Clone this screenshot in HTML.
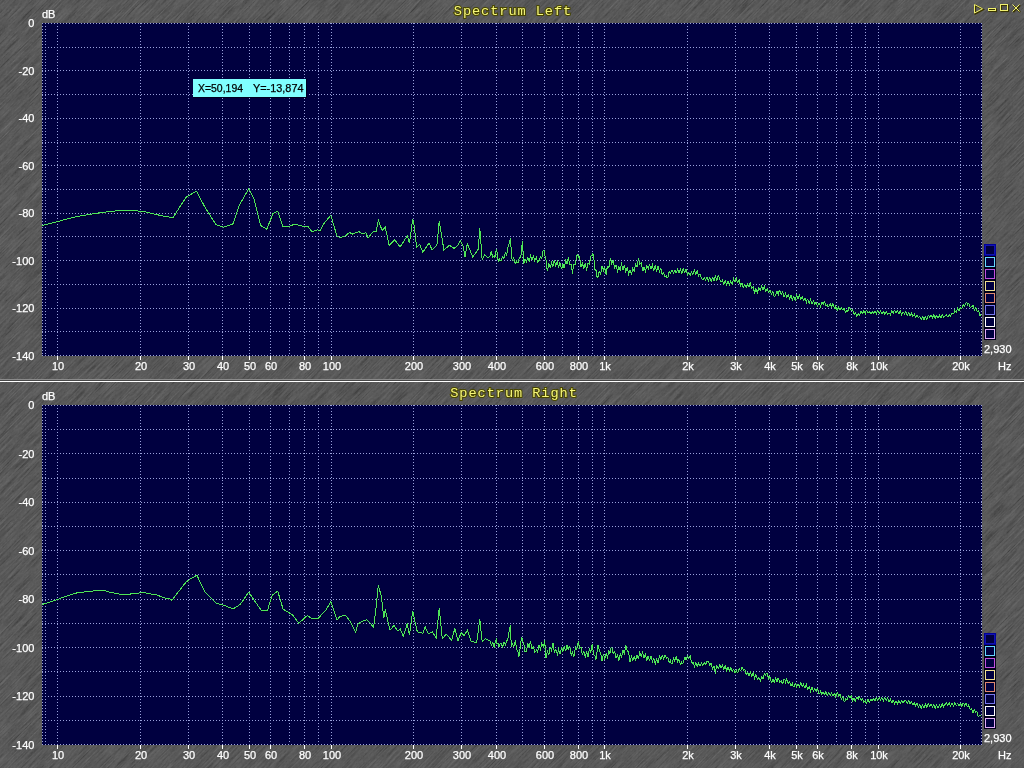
<!DOCTYPE html>
<html><head><meta charset="utf-8"><style>
html,body{margin:0;padding:0;width:1024px;height:768px;overflow:hidden;}
body{background-color:#575757;}
svg{position:absolute;left:0;top:0;will-change:transform;}
.lb{font-family:"Liberation Sans",sans-serif;font-size:11px;fill:#fff;stroke:#fff;stroke-width:0.25px;}
.tt{font-family:"Liberation Mono",monospace;font-weight:normal;font-size:13.6px;letter-spacing:0.95px;fill:#f6f67a;stroke:#484600;stroke-width:2px;paint-order:stroke;}
</style></head><body>
<svg width="1024" height="768" viewBox="0 0 1024 768">
<defs><filter id="n" color-interpolation-filters="sRGB" x="0" y="0" width="1" height="1" filterUnits="objectBoundingBox">
<feTurbulence type="fractalNoise" baseFrequency="0.8 0.035" numOctaves="4" seed="7" result="a"/>
<feTurbulence type="fractalNoise" baseFrequency="1.3 0.5" numOctaves="1" seed="3" result="b"/>
<feComposite in="a" in2="b" operator="arithmetic" k1="0" k2="0.7" k3="0.3" k4="0"/>
<feComponentTransfer><feFuncR type="gamma" amplitude="1" exponent="0.5" offset="0"/></feComponentTransfer>
<feColorMatrix type="matrix" values="0.4 0 0 0 0.066  0.4 0 0 0 0.066  0.4 0 0 0 0.066  0 0 0 0 1"/>
</filter></defs>
<g transform="rotate(45 512 384)"><rect x="-400" y="-400" width="1824" height="1568" filter="url(#n)"/></g>
<g shape-rendering="crispEdges">
<rect x="0" y="379" width="1024" height="1" fill="#8a8a8a"/>
<rect x="0" y="380" width="1024" height="1" fill="#484848"/>
<rect x="0" y="381" width="1024" height="1" fill="#ffffff"/>
<rect x="42" y="23" width="940" height="333" fill="#000040"/>
<line x1="42" y1="23.5" x2="982" y2="23.5" stroke="#9aa2dc" stroke-dasharray="1 2"/>
<line x1="42" y1="47.5" x2="982" y2="47.5" stroke="#9aa2dc" stroke-dasharray="1 2"/>
<line x1="42" y1="70.5" x2="982" y2="70.5" stroke="#9aa2dc" stroke-dasharray="1 2"/>
<line x1="42" y1="94.5" x2="982" y2="94.5" stroke="#9aa2dc" stroke-dasharray="1 2"/>
<line x1="42" y1="118.5" x2="982" y2="118.5" stroke="#9aa2dc" stroke-dasharray="1 2"/>
<line x1="42" y1="142.5" x2="982" y2="142.5" stroke="#9aa2dc" stroke-dasharray="1 2"/>
<line x1="42" y1="165.5" x2="982" y2="165.5" stroke="#9aa2dc" stroke-dasharray="1 2"/>
<line x1="42" y1="189.5" x2="982" y2="189.5" stroke="#9aa2dc" stroke-dasharray="1 2"/>
<line x1="42" y1="213.5" x2="982" y2="213.5" stroke="#9aa2dc" stroke-dasharray="1 2"/>
<line x1="42" y1="236.5" x2="982" y2="236.5" stroke="#9aa2dc" stroke-dasharray="1 2"/>
<line x1="42" y1="260.5" x2="982" y2="260.5" stroke="#9aa2dc" stroke-dasharray="1 2"/>
<line x1="42" y1="284.5" x2="982" y2="284.5" stroke="#9aa2dc" stroke-dasharray="1 2"/>
<line x1="42" y1="308.5" x2="982" y2="308.5" stroke="#9aa2dc" stroke-dasharray="1 2"/>
<line x1="42" y1="331.5" x2="982" y2="331.5" stroke="#9aa2dc" stroke-dasharray="1 2"/>
<line x1="42" y1="355.5" x2="982" y2="355.5" stroke="#9aa2dc" stroke-dasharray="1 2"/>
<line x1="42.5" y1="23" x2="42.5" y2="355" stroke="#9aa2dc" stroke-dasharray="1 2"/>
<line x1="981.5" y1="23" x2="981.5" y2="355" stroke="#9aa2dc" stroke-dasharray="1 2"/>
<line x1="45.5" y1="23" x2="45.5" y2="355" stroke="#9aa2dc" stroke-dasharray="1 2"/>
<line x1="57.5" y1="23" x2="57.5" y2="355" stroke="#9aa2dc" stroke-dasharray="1 2"/>
<line x1="140.5" y1="23" x2="140.5" y2="355" stroke="#9aa2dc" stroke-dasharray="1 2"/>
<line x1="188.5" y1="23" x2="188.5" y2="355" stroke="#9aa2dc" stroke-dasharray="1 2"/>
<line x1="222.5" y1="23" x2="222.5" y2="355" stroke="#9aa2dc" stroke-dasharray="1 2"/>
<line x1="249.5" y1="23" x2="249.5" y2="355" stroke="#9aa2dc" stroke-dasharray="1 2"/>
<line x1="270.5" y1="23" x2="270.5" y2="355" stroke="#9aa2dc" stroke-dasharray="1 2"/>
<line x1="289.5" y1="23" x2="289.5" y2="355" stroke="#9aa2dc" stroke-dasharray="1 2"/>
<line x1="304.5" y1="23" x2="304.5" y2="355" stroke="#9aa2dc" stroke-dasharray="1 2"/>
<line x1="318.5" y1="23" x2="318.5" y2="355" stroke="#9aa2dc" stroke-dasharray="1 2"/>
<line x1="331.5" y1="23" x2="331.5" y2="355" stroke="#9aa2dc" stroke-dasharray="1 2"/>
<line x1="413.5" y1="23" x2="413.5" y2="355" stroke="#9aa2dc" stroke-dasharray="1 2"/>
<line x1="461.5" y1="23" x2="461.5" y2="355" stroke="#9aa2dc" stroke-dasharray="1 2"/>
<line x1="496.5" y1="23" x2="496.5" y2="355" stroke="#9aa2dc" stroke-dasharray="1 2"/>
<line x1="522.5" y1="23" x2="522.5" y2="355" stroke="#9aa2dc" stroke-dasharray="1 2"/>
<line x1="544.5" y1="23" x2="544.5" y2="355" stroke="#9aa2dc" stroke-dasharray="1 2"/>
<line x1="562.5" y1="23" x2="562.5" y2="355" stroke="#9aa2dc" stroke-dasharray="1 2"/>
<line x1="578.5" y1="23" x2="578.5" y2="355" stroke="#9aa2dc" stroke-dasharray="1 2"/>
<line x1="592.5" y1="23" x2="592.5" y2="355" stroke="#9aa2dc" stroke-dasharray="1 2"/>
<line x1="604.5" y1="23" x2="604.5" y2="355" stroke="#9aa2dc" stroke-dasharray="1 2"/>
<line x1="687.5" y1="23" x2="687.5" y2="355" stroke="#9aa2dc" stroke-dasharray="1 2"/>
<line x1="735.5" y1="23" x2="735.5" y2="355" stroke="#9aa2dc" stroke-dasharray="1 2"/>
<line x1="769.5" y1="23" x2="769.5" y2="355" stroke="#9aa2dc" stroke-dasharray="1 2"/>
<line x1="796.5" y1="23" x2="796.5" y2="355" stroke="#9aa2dc" stroke-dasharray="1 2"/>
<line x1="817.5" y1="23" x2="817.5" y2="355" stroke="#9aa2dc" stroke-dasharray="1 2"/>
<line x1="836.5" y1="23" x2="836.5" y2="355" stroke="#9aa2dc" stroke-dasharray="1 2"/>
<line x1="851.5" y1="23" x2="851.5" y2="355" stroke="#9aa2dc" stroke-dasharray="1 2"/>
<line x1="865.5" y1="23" x2="865.5" y2="355" stroke="#9aa2dc" stroke-dasharray="1 2"/>
<line x1="878.5" y1="23" x2="878.5" y2="355" stroke="#9aa2dc" stroke-dasharray="1 2"/>
<line x1="960.5" y1="23" x2="960.5" y2="355" stroke="#9aa2dc" stroke-dasharray="1 2"/>
<rect x="57" y="356" width="1" height="4" fill="#fff"/>
<rect x="140" y="356" width="1" height="4" fill="#fff"/>
<rect x="188" y="356" width="1" height="4" fill="#fff"/>
<rect x="222" y="356" width="1" height="4" fill="#fff"/>
<rect x="249" y="356" width="1" height="4" fill="#fff"/>
<rect x="270" y="356" width="1" height="4" fill="#fff"/>
<rect x="304" y="356" width="1" height="4" fill="#fff"/>
<rect x="331" y="356" width="1" height="4" fill="#fff"/>
<rect x="413" y="356" width="1" height="4" fill="#fff"/>
<rect x="461" y="356" width="1" height="4" fill="#fff"/>
<rect x="496" y="356" width="1" height="4" fill="#fff"/>
<rect x="544" y="356" width="1" height="4" fill="#fff"/>
<rect x="578" y="356" width="1" height="4" fill="#fff"/>
<rect x="604" y="356" width="1" height="4" fill="#fff"/>
<rect x="687" y="356" width="1" height="4" fill="#fff"/>
<rect x="735" y="356" width="1" height="4" fill="#fff"/>
<rect x="769" y="356" width="1" height="4" fill="#fff"/>
<rect x="796" y="356" width="1" height="4" fill="#fff"/>
<rect x="817" y="356" width="1" height="4" fill="#fff"/>
<rect x="851" y="356" width="1" height="4" fill="#fff"/>
<rect x="878" y="356" width="1" height="4" fill="#fff"/>
<rect x="960" y="356" width="1" height="4" fill="#fff"/>
<rect x="984" y="244" width="12" height="96" fill="#000018"/>
<rect x="984" y="244" width="12" height="12" fill="#00009c"/>
<rect x="985.5" y="245.5" width="9" height="9" fill="#000040" stroke="#1414b0" stroke-width="1"/>
<rect x="985.5" y="257.5" width="9" height="9" fill="#000040" stroke="#66d8ff" stroke-width="1"/>
<rect x="985.5" y="269.5" width="9" height="9" fill="#000040" stroke="#c050e0" stroke-width="1"/>
<rect x="985.5" y="281.5" width="9" height="9" fill="#000040" stroke="#f0e090" stroke-width="1"/>
<rect x="985.5" y="293.5" width="9" height="9" fill="#000040" stroke="#e08870" stroke-width="1"/>
<rect x="985.5" y="305.5" width="9" height="9" fill="#000040" stroke="#7878f0" stroke-width="1"/>
<rect x="985.5" y="317.5" width="9" height="9" fill="#000040" stroke="#ffffff" stroke-width="1"/>
<rect x="985.5" y="329.5" width="9" height="9" fill="#000040" stroke="#e0a8f8" stroke-width="1"/>
<rect x="42" y="405" width="940" height="340" fill="#000040"/>
<line x1="42" y1="405.5" x2="982" y2="405.5" stroke="#9aa2dc" stroke-dasharray="1 2"/>
<line x1="42" y1="429.5" x2="982" y2="429.5" stroke="#9aa2dc" stroke-dasharray="1 2"/>
<line x1="42" y1="453.5" x2="982" y2="453.5" stroke="#9aa2dc" stroke-dasharray="1 2"/>
<line x1="42" y1="478.5" x2="982" y2="478.5" stroke="#9aa2dc" stroke-dasharray="1 2"/>
<line x1="42" y1="502.5" x2="982" y2="502.5" stroke="#9aa2dc" stroke-dasharray="1 2"/>
<line x1="42" y1="526.5" x2="982" y2="526.5" stroke="#9aa2dc" stroke-dasharray="1 2"/>
<line x1="42" y1="550.5" x2="982" y2="550.5" stroke="#9aa2dc" stroke-dasharray="1 2"/>
<line x1="42" y1="574.5" x2="982" y2="574.5" stroke="#9aa2dc" stroke-dasharray="1 2"/>
<line x1="42" y1="599.5" x2="982" y2="599.5" stroke="#9aa2dc" stroke-dasharray="1 2"/>
<line x1="42" y1="623.5" x2="982" y2="623.5" stroke="#9aa2dc" stroke-dasharray="1 2"/>
<line x1="42" y1="647.5" x2="982" y2="647.5" stroke="#9aa2dc" stroke-dasharray="1 2"/>
<line x1="42" y1="671.5" x2="982" y2="671.5" stroke="#9aa2dc" stroke-dasharray="1 2"/>
<line x1="42" y1="696.5" x2="982" y2="696.5" stroke="#9aa2dc" stroke-dasharray="1 2"/>
<line x1="42" y1="720.5" x2="982" y2="720.5" stroke="#9aa2dc" stroke-dasharray="1 2"/>
<line x1="42" y1="744.5" x2="982" y2="744.5" stroke="#9aa2dc" stroke-dasharray="1 2"/>
<line x1="42.5" y1="405" x2="42.5" y2="744" stroke="#9aa2dc" stroke-dasharray="1 2"/>
<line x1="981.5" y1="405" x2="981.5" y2="744" stroke="#9aa2dc" stroke-dasharray="1 2"/>
<line x1="45.5" y1="405" x2="45.5" y2="744" stroke="#9aa2dc" stroke-dasharray="1 2"/>
<line x1="57.5" y1="405" x2="57.5" y2="744" stroke="#9aa2dc" stroke-dasharray="1 2"/>
<line x1="140.5" y1="405" x2="140.5" y2="744" stroke="#9aa2dc" stroke-dasharray="1 2"/>
<line x1="188.5" y1="405" x2="188.5" y2="744" stroke="#9aa2dc" stroke-dasharray="1 2"/>
<line x1="222.5" y1="405" x2="222.5" y2="744" stroke="#9aa2dc" stroke-dasharray="1 2"/>
<line x1="249.5" y1="405" x2="249.5" y2="744" stroke="#9aa2dc" stroke-dasharray="1 2"/>
<line x1="270.5" y1="405" x2="270.5" y2="744" stroke="#9aa2dc" stroke-dasharray="1 2"/>
<line x1="289.5" y1="405" x2="289.5" y2="744" stroke="#9aa2dc" stroke-dasharray="1 2"/>
<line x1="304.5" y1="405" x2="304.5" y2="744" stroke="#9aa2dc" stroke-dasharray="1 2"/>
<line x1="318.5" y1="405" x2="318.5" y2="744" stroke="#9aa2dc" stroke-dasharray="1 2"/>
<line x1="331.5" y1="405" x2="331.5" y2="744" stroke="#9aa2dc" stroke-dasharray="1 2"/>
<line x1="413.5" y1="405" x2="413.5" y2="744" stroke="#9aa2dc" stroke-dasharray="1 2"/>
<line x1="461.5" y1="405" x2="461.5" y2="744" stroke="#9aa2dc" stroke-dasharray="1 2"/>
<line x1="496.5" y1="405" x2="496.5" y2="744" stroke="#9aa2dc" stroke-dasharray="1 2"/>
<line x1="522.5" y1="405" x2="522.5" y2="744" stroke="#9aa2dc" stroke-dasharray="1 2"/>
<line x1="544.5" y1="405" x2="544.5" y2="744" stroke="#9aa2dc" stroke-dasharray="1 2"/>
<line x1="562.5" y1="405" x2="562.5" y2="744" stroke="#9aa2dc" stroke-dasharray="1 2"/>
<line x1="578.5" y1="405" x2="578.5" y2="744" stroke="#9aa2dc" stroke-dasharray="1 2"/>
<line x1="592.5" y1="405" x2="592.5" y2="744" stroke="#9aa2dc" stroke-dasharray="1 2"/>
<line x1="604.5" y1="405" x2="604.5" y2="744" stroke="#9aa2dc" stroke-dasharray="1 2"/>
<line x1="687.5" y1="405" x2="687.5" y2="744" stroke="#9aa2dc" stroke-dasharray="1 2"/>
<line x1="735.5" y1="405" x2="735.5" y2="744" stroke="#9aa2dc" stroke-dasharray="1 2"/>
<line x1="769.5" y1="405" x2="769.5" y2="744" stroke="#9aa2dc" stroke-dasharray="1 2"/>
<line x1="796.5" y1="405" x2="796.5" y2="744" stroke="#9aa2dc" stroke-dasharray="1 2"/>
<line x1="817.5" y1="405" x2="817.5" y2="744" stroke="#9aa2dc" stroke-dasharray="1 2"/>
<line x1="836.5" y1="405" x2="836.5" y2="744" stroke="#9aa2dc" stroke-dasharray="1 2"/>
<line x1="851.5" y1="405" x2="851.5" y2="744" stroke="#9aa2dc" stroke-dasharray="1 2"/>
<line x1="865.5" y1="405" x2="865.5" y2="744" stroke="#9aa2dc" stroke-dasharray="1 2"/>
<line x1="878.5" y1="405" x2="878.5" y2="744" stroke="#9aa2dc" stroke-dasharray="1 2"/>
<line x1="960.5" y1="405" x2="960.5" y2="744" stroke="#9aa2dc" stroke-dasharray="1 2"/>
<rect x="57" y="745" width="1" height="4" fill="#fff"/>
<rect x="140" y="745" width="1" height="4" fill="#fff"/>
<rect x="188" y="745" width="1" height="4" fill="#fff"/>
<rect x="222" y="745" width="1" height="4" fill="#fff"/>
<rect x="249" y="745" width="1" height="4" fill="#fff"/>
<rect x="270" y="745" width="1" height="4" fill="#fff"/>
<rect x="304" y="745" width="1" height="4" fill="#fff"/>
<rect x="331" y="745" width="1" height="4" fill="#fff"/>
<rect x="413" y="745" width="1" height="4" fill="#fff"/>
<rect x="461" y="745" width="1" height="4" fill="#fff"/>
<rect x="496" y="745" width="1" height="4" fill="#fff"/>
<rect x="544" y="745" width="1" height="4" fill="#fff"/>
<rect x="578" y="745" width="1" height="4" fill="#fff"/>
<rect x="604" y="745" width="1" height="4" fill="#fff"/>
<rect x="687" y="745" width="1" height="4" fill="#fff"/>
<rect x="735" y="745" width="1" height="4" fill="#fff"/>
<rect x="769" y="745" width="1" height="4" fill="#fff"/>
<rect x="796" y="745" width="1" height="4" fill="#fff"/>
<rect x="817" y="745" width="1" height="4" fill="#fff"/>
<rect x="851" y="745" width="1" height="4" fill="#fff"/>
<rect x="878" y="745" width="1" height="4" fill="#fff"/>
<rect x="960" y="745" width="1" height="4" fill="#fff"/>
<rect x="984" y="633" width="12" height="96" fill="#000018"/>
<rect x="984" y="633" width="12" height="12" fill="#00009c"/>
<rect x="985.5" y="634.5" width="9" height="9" fill="#000040" stroke="#1414b0" stroke-width="1"/>
<rect x="985.5" y="646.5" width="9" height="9" fill="#000040" stroke="#66d8ff" stroke-width="1"/>
<rect x="985.5" y="658.5" width="9" height="9" fill="#000040" stroke="#c050e0" stroke-width="1"/>
<rect x="985.5" y="670.5" width="9" height="9" fill="#000040" stroke="#f0e090" stroke-width="1"/>
<rect x="985.5" y="682.5" width="9" height="9" fill="#000040" stroke="#e08870" stroke-width="1"/>
<rect x="985.5" y="694.5" width="9" height="9" fill="#000040" stroke="#7878f0" stroke-width="1"/>
<rect x="985.5" y="706.5" width="9" height="9" fill="#000040" stroke="#ffffff" stroke-width="1"/>
<rect x="985.5" y="718.5" width="9" height="9" fill="#000040" stroke="#e0a8f8" stroke-width="1"/>
<rect x="193" y="79" width="113" height="18" fill="#80ffff"/>
<rect x="193" y="97" width="114" height="1" fill="#000020"/>
<rect x="306" y="79" width="1" height="19" fill="#000020"/>
</g>
<path d="M42.0,225.5 L46.0,224.5 L50.0,223.5 L54.0,222.5 L57.6,221.5 L61.7,220.5 L65.0,219.5 L69.0,218.5 L73.0,217.5 L77.5,216.5 L83.0,215.5 L89.0,214.5 L96.0,213.5 L100.0,212.7 L104.0,212.5 L108.0,211.5 L113.0,211.2 L119.0,210.5 L133.0,210.5 L138.0,211.0 L144.0,211.5 L148.0,212.5 L152.0,213.5 L156.0,214.5 L161.0,215.5 L165.0,216.5 L173.0,217.5 L180.0,206.6 L186.2,197.2 L189.4,195.3 L196.4,191.2 L205.0,207.3 L215.9,224.5 L223.8,227.2 L233.1,223.8 L239.4,205.0 L248.8,188.6 L254.2,199.5 L260.5,225.3 L266.7,229.2 L273.0,213.6 L277.7,211.2 L283.1,226.9 L289.4,226.1 L294.0,224.5 L300.3,225.3 L305.0,226.9 L308.1,226.6 L312.0,231.6 L317.5,229.7 L319.8,230.8 L323.8,223.8 L330.8,215.2 L337.0,236.2 L340.0,237.5 L345.5,235.9 L349.4,232.5 L352.5,234.0 L358.8,231.6 L361.9,233.6 L365.8,232.8 L368.1,237.8 L373.6,231.2 L376.0,232.0 L378.3,220.3 L382.2,230.5 L385.3,227.3 L389.2,245.3 L394.7,239.8 L400.2,246.9 L407.2,235.9 L409.5,243.0 L412.7,218.8 L414.2,225.8 L416.6,246.9 L419.7,244.5 L422.8,252.3 L429.0,243.0 L432.2,250.0 L436.9,245.3 L439.2,221.1 L443.9,250.0 L449.4,245.3 L454.0,248.4 L457.2,246.1 L460.3,240.6 L463.4,246.9 L465.0,257.0 L467.3,243.8 L472.8,257.0 L478.3,249.2 L479.8,228.1 L482.2,260.2 L484.5,254.7 L487.7,257.8 L490.0,256.3 L491.4,251.1 L491.6,253.1 L492.8,257.1 L494.2,255.6 L494.7,257.8 L495.6,254.6 L496.2,249.2 L497.0,252.0 L497.8,258.6 L498.4,261.2 L499.8,258.2 L500.0,260.6 L501.2,260.5 L502.6,256.5 L504.0,258.4 L505.4,252.9 L506.8,255.2 L507.0,252.8 L508.2,246.3 L509.6,242.8 L510.2,238.4 L511.0,246.9 L511.7,258.3 L512.4,260.3 L513.8,257.7 L515.2,263.7 L516.6,261.3 L517.2,263.0 L518.0,262.7 L519.4,257.2 L520.3,257.5 L520.8,257.6 L522.2,243.1 L522.7,242.2 L523.4,262.2 L523.6,264.0 L525.0,258.9 L526.4,262.0 L527.8,257.6 L529.2,261.1 L530.6,255.4 L531.2,257.5 L532.0,259.8 L533.4,256.4 L534.8,260.9 L536.2,257.1 L537.6,262.1 L539.0,260.6 L540.4,256.5 L541.8,258.6 L543.2,250.3 L544.5,250.5 L544.6,254.0 L546.0,259.8 L546.9,268.4 L547.4,271.4 L548.8,263.8 L550.2,267.5 L551.6,262.5 L553.0,266.4 L554.4,259.6 L554.7,262.2 L555.8,266.1 L557.2,261.4 L558.6,267.6 L560.0,262.6 L561.4,268.3 L562.5,266.9 L562.8,263.9 L564.2,268.1 L565.6,260.3 L567.0,264.3 L568.4,257.6 L568.8,259.8 L569.8,264.3 L571.2,264.6 L572.6,273.5 L572.7,270.8 L574.0,264.5 L575.4,264.3 L576.8,255.6 L578.0,254.4 L578.2,257.9 L579.6,257.0 L581.0,266.7 L581.2,265.3 L582.4,263.2 L583.8,268.4 L585.2,263.3 L586.6,269.2 L587.5,266.9 L588.0,263.2 L589.4,264.0 L590.8,256.0 L592.2,255.3 L592.5,252.8 L593.6,255.8 L595.0,269.5 L596.4,270.9 L596.9,276.2 L597.8,277.4 L599.2,271.4 L600.6,274.0 L602.0,266.3 L603.0,268.4 L603.4,271.8 L604.8,267.6 L606.2,274.7 L606.2,271.6 L607.6,266.3 L609.0,267.3 L610.4,258.0 L611.0,259.8 L611.8,263.7 L613.2,261.0 L614.6,267.8 L616.0,265.5 L617.2,270.0 L617.4,273.1 L618.8,266.9 L620.2,270.0 L621.6,262.5 L621.9,265.3 L623.0,269.5 L624.4,264.7 L625.8,271.9 L627.2,267.7 L628.6,274.0 L630.0,270.4 L631.2,273.9 L631.4,275.3 L632.8,268.1 L634.2,271.4 L635.6,264.5 L637.0,266.5 L638.4,259.2 L639.0,260.6 L639.8,264.4 L641.2,262.8 L642.6,270.3 L643.8,270.0 L644.0,267.1 L645.4,271.6 L646.8,265.6 L648.2,268.6 L648.4,266.9 L649.6,265.2 L651.0,269.4 L652.4,265.2 L653.8,271.3 L655.2,265.5 L656.6,271.9 L658.0,266.2 L659.4,271.6 L660.0,269.7 L660.8,268.2 L662.2,274.3 L663.6,272.4 L665.0,276.5 L666.4,275.6 L667.0,277.5 L667.8,277.9 L669.2,270.9 L669.4,272.0 L670.6,273.2 L672.0,269.7 L673.4,273.3 L674.8,270.2 L676.2,272.8 L677.6,269.3 L679.0,272.5 L680.4,269.4 L681.8,273.1 L683.2,268.9 L684.6,272.2 L685.8,270.5 L686.0,269.2 L687.3,274.4 L687.4,275.6 L688.8,272.3 L690.2,275.5 L691.6,271.9 L693.0,274.4 L694.4,270.3 L695.8,274.3 L697.2,270.6 L697.5,272.0 L698.6,275.8 L700.0,273.7 L701.4,278.3 L702.8,279.7 L704.2,277.5 L705.6,280.3 L707.0,276.9 L708.4,280.7 L709.8,277.4 L711.2,281.9 L711.6,279.8 L712.6,277.6 L714.0,280.6 L715.4,276.1 L716.8,280.6 L718.2,275.9 L719.4,277.5 L719.6,279.6 L721.0,282.2 L722.4,280.4 L723.8,284.5 L725.2,281.0 L726.6,284.9 L728.0,281.5 L728.8,283.8 L729.4,284.7 L730.8,281.1 L732.2,284.6 L733.6,278.9 L735.0,282.2 L736.4,277.5 L736.6,279.8 L737.8,282.6 L739.2,279.9 L740.6,286.1 L742.0,283.5 L742.8,286.1 L743.4,287.5 L744.8,284.5 L746.2,287.8 L747.6,283.9 L749.0,287.2 L750.4,282.0 L750.6,284.5 L751.8,288.3 L753.2,287.0 L754.6,293.0 L755.3,291.6 L756.0,288.6 L757.4,292.6 L758.8,287.8 L760.2,290.6 L761.6,286.4 L762.3,287.7 L763.0,289.5 L764.4,286.7 L765.8,291.4 L767.2,288.9 L768.6,292.5 L769.4,291.6 L770.0,289.9 L771.4,294.5 L772.8,291.9 L774.2,296.3 L775.6,295.5 L777.0,291.4 L778.4,294.5 L778.8,291.6 L779.8,290.9 L781.2,294.3 L782.6,291.9 L784.0,296.8 L785.0,294.7 L785.4,292.6 L786.8,297.3 L788.2,294.8 L789.6,299.1 L791.0,295.3 L792.4,300.9 L792.8,298.6 L793.8,296.6 L795.2,300.2 L796.6,295.2 L797.5,297.0 L798.0,299.0 L799.4,295.1 L800.8,299.6 L802.2,296.4 L803.6,300.4 L805.0,298.1 L806.4,302.5 L806.9,300.2 L807.8,299.0 L809.2,303.2 L810.6,299.4 L812.0,304.3 L813.4,300.7 L814.8,304.5 L816.2,301.7 L816.2,303.3 L817.6,306.4 L819.0,302.7 L820.0,305.2 L820.4,306.8 L821.8,302.3 L823.2,304.2 L823.9,302.8 L824.6,302.0 L826.0,305.6 L827.4,305.0 L827.8,306.2 L828.8,306.9 L830.2,303.7 L831.6,306.7 L832.5,304.7 L833.0,303.6 L834.4,308.1 L835.6,308.3 L835.8,306.8 L837.2,310.1 L838.6,307.3 L840.0,310.1 L841.4,307.7 L842.8,309.9 L843.4,309.0 L844.2,308.5 L845.6,312.4 L847.0,310.2 L847.3,311.9 L848.4,310.7 L848.9,307.5 L849.8,307.1 L851.2,310.9 L852.6,309.5 L854.0,314.3 L855.4,313.1 L856.7,315.3 L856.8,316.8 L858.2,313.7 L859.6,315.0 L861.0,311.6 L862.4,313.6 L863.8,311.0 L865.2,313.3 L865.3,311.4 L866.6,310.4 L868.0,313.1 L869.4,311.4 L870.8,313.9 L871.6,313.0 L872.2,311.3 L873.6,313.6 L875.0,310.7 L876.4,313.5 L877.8,310.2 L878.6,311.9 L879.2,313.8 L880.6,311.1 L882.0,313.6 L883.4,311.4 L884.8,314.0 L886.2,311.7 L887.6,314.4 L888.8,313.8 L889.0,312.8 L890.4,314.8 L891.8,311.0 L893.2,313.0 L893.4,311.4 L894.6,310.2 L896.0,312.9 L897.4,311.0 L898.8,313.9 L899.7,312.2 L900.2,310.4 L901.6,314.3 L903.0,311.7 L904.4,314.0 L905.2,313.0 L905.8,311.7 L907.2,315.4 L908.6,312.5 L910.0,315.9 L911.4,313.1 L912.8,316.2 L913.8,315.3 L914.2,314.0 L915.6,317.1 L917.0,315.3 L918.4,317.8 L919.8,316.2 L921.2,319.7 L922.6,317.0 L923.9,318.8 L924.0,320.2 L925.4,316.5 L926.8,319.2 L928.2,315.4 L929.4,316.1 L929.6,317.3 L931.0,315.1 L932.4,317.7 L933.8,314.9 L935.2,318.6 L935.6,316.9 L936.6,315.6 L938.0,317.9 L939.4,315.2 L940.8,317.9 L942.2,314.9 L943.6,317.3 L945.0,316.1 L946.4,315.0 L947.8,316.7 L949.2,314.5 L949.7,315.3 L950.6,316.1 L952.0,312.9 L953.4,313.8 L954.4,312.2 L954.8,310.4 L956.2,312.2 L957.6,308.5 L959.0,310.7 L960.4,306.7 L960.6,308.3 L961.8,308.3 L963.2,304.7 L964.6,306.5 L966.0,302.7 L966.9,302.8 L967.4,305.1 L968.8,303.3 L970.2,307.2 L971.6,306.7 L973.0,305.5 L974.4,309.8 L975.8,307.6 L976.2,309.0 L977.2,311.2 L978.6,310.6 L979.4,313.0 L980.0,315.4 L981.0,314.5" fill="none" stroke="#000010" stroke-opacity="0.45" stroke-width="1" transform="translate(1,1)" shape-rendering="crispEdges"/>
<path d="M42.0,225.5 L46.0,224.5 L50.0,223.5 L54.0,222.5 L57.6,221.5 L61.7,220.5 L65.0,219.5 L69.0,218.5 L73.0,217.5 L77.5,216.5 L83.0,215.5 L89.0,214.5 L96.0,213.5 L100.0,212.7 L104.0,212.5 L108.0,211.5 L113.0,211.2 L119.0,210.5 L133.0,210.5 L138.0,211.0 L144.0,211.5 L148.0,212.5 L152.0,213.5 L156.0,214.5 L161.0,215.5 L165.0,216.5 L173.0,217.5 L180.0,206.6 L186.2,197.2 L189.4,195.3 L196.4,191.2 L205.0,207.3 L215.9,224.5 L223.8,227.2 L233.1,223.8 L239.4,205.0 L248.8,188.6 L254.2,199.5 L260.5,225.3 L266.7,229.2 L273.0,213.6 L277.7,211.2 L283.1,226.9 L289.4,226.1 L294.0,224.5 L300.3,225.3 L305.0,226.9 L308.1,226.6 L312.0,231.6 L317.5,229.7 L319.8,230.8 L323.8,223.8 L330.8,215.2 L337.0,236.2 L340.0,237.5 L345.5,235.9 L349.4,232.5 L352.5,234.0 L358.8,231.6 L361.9,233.6 L365.8,232.8 L368.1,237.8 L373.6,231.2 L376.0,232.0 L378.3,220.3 L382.2,230.5 L385.3,227.3 L389.2,245.3 L394.7,239.8 L400.2,246.9 L407.2,235.9 L409.5,243.0 L412.7,218.8 L414.2,225.8 L416.6,246.9 L419.7,244.5 L422.8,252.3 L429.0,243.0 L432.2,250.0 L436.9,245.3 L439.2,221.1 L443.9,250.0 L449.4,245.3 L454.0,248.4 L457.2,246.1 L460.3,240.6 L463.4,246.9 L465.0,257.0 L467.3,243.8 L472.8,257.0 L478.3,249.2 L479.8,228.1 L482.2,260.2 L484.5,254.7 L487.7,257.8 L490.0,256.3 L491.4,251.1 L491.6,253.1 L492.8,257.1 L494.2,255.6 L494.7,257.8 L495.6,254.6 L496.2,249.2 L497.0,252.0 L497.8,258.6 L498.4,261.2 L499.8,258.2 L500.0,260.6 L501.2,260.5 L502.6,256.5 L504.0,258.4 L505.4,252.9 L506.8,255.2 L507.0,252.8 L508.2,246.3 L509.6,242.8 L510.2,238.4 L511.0,246.9 L511.7,258.3 L512.4,260.3 L513.8,257.7 L515.2,263.7 L516.6,261.3 L517.2,263.0 L518.0,262.7 L519.4,257.2 L520.3,257.5 L520.8,257.6 L522.2,243.1 L522.7,242.2 L523.4,262.2 L523.6,264.0 L525.0,258.9 L526.4,262.0 L527.8,257.6 L529.2,261.1 L530.6,255.4 L531.2,257.5 L532.0,259.8 L533.4,256.4 L534.8,260.9 L536.2,257.1 L537.6,262.1 L539.0,260.6 L540.4,256.5 L541.8,258.6 L543.2,250.3 L544.5,250.5 L544.6,254.0 L546.0,259.8 L546.9,268.4 L547.4,271.4 L548.8,263.8 L550.2,267.5 L551.6,262.5 L553.0,266.4 L554.4,259.6 L554.7,262.2 L555.8,266.1 L557.2,261.4 L558.6,267.6 L560.0,262.6 L561.4,268.3 L562.5,266.9 L562.8,263.9 L564.2,268.1 L565.6,260.3 L567.0,264.3 L568.4,257.6 L568.8,259.8 L569.8,264.3 L571.2,264.6 L572.6,273.5 L572.7,270.8 L574.0,264.5 L575.4,264.3 L576.8,255.6 L578.0,254.4 L578.2,257.9 L579.6,257.0 L581.0,266.7 L581.2,265.3 L582.4,263.2 L583.8,268.4 L585.2,263.3 L586.6,269.2 L587.5,266.9 L588.0,263.2 L589.4,264.0 L590.8,256.0 L592.2,255.3 L592.5,252.8 L593.6,255.8 L595.0,269.5 L596.4,270.9 L596.9,276.2 L597.8,277.4 L599.2,271.4 L600.6,274.0 L602.0,266.3 L603.0,268.4 L603.4,271.8 L604.8,267.6 L606.2,274.7 L606.2,271.6 L607.6,266.3 L609.0,267.3 L610.4,258.0 L611.0,259.8 L611.8,263.7 L613.2,261.0 L614.6,267.8 L616.0,265.5 L617.2,270.0 L617.4,273.1 L618.8,266.9 L620.2,270.0 L621.6,262.5 L621.9,265.3 L623.0,269.5 L624.4,264.7 L625.8,271.9 L627.2,267.7 L628.6,274.0 L630.0,270.4 L631.2,273.9 L631.4,275.3 L632.8,268.1 L634.2,271.4 L635.6,264.5 L637.0,266.5 L638.4,259.2 L639.0,260.6 L639.8,264.4 L641.2,262.8 L642.6,270.3 L643.8,270.0 L644.0,267.1 L645.4,271.6 L646.8,265.6 L648.2,268.6 L648.4,266.9 L649.6,265.2 L651.0,269.4 L652.4,265.2 L653.8,271.3 L655.2,265.5 L656.6,271.9 L658.0,266.2 L659.4,271.6 L660.0,269.7 L660.8,268.2 L662.2,274.3 L663.6,272.4 L665.0,276.5 L666.4,275.6 L667.0,277.5 L667.8,277.9 L669.2,270.9 L669.4,272.0 L670.6,273.2 L672.0,269.7 L673.4,273.3 L674.8,270.2 L676.2,272.8 L677.6,269.3 L679.0,272.5 L680.4,269.4 L681.8,273.1 L683.2,268.9 L684.6,272.2 L685.8,270.5 L686.0,269.2 L687.3,274.4 L687.4,275.6 L688.8,272.3 L690.2,275.5 L691.6,271.9 L693.0,274.4 L694.4,270.3 L695.8,274.3 L697.2,270.6 L697.5,272.0 L698.6,275.8 L700.0,273.7 L701.4,278.3 L702.8,279.7 L704.2,277.5 L705.6,280.3 L707.0,276.9 L708.4,280.7 L709.8,277.4 L711.2,281.9 L711.6,279.8 L712.6,277.6 L714.0,280.6 L715.4,276.1 L716.8,280.6 L718.2,275.9 L719.4,277.5 L719.6,279.6 L721.0,282.2 L722.4,280.4 L723.8,284.5 L725.2,281.0 L726.6,284.9 L728.0,281.5 L728.8,283.8 L729.4,284.7 L730.8,281.1 L732.2,284.6 L733.6,278.9 L735.0,282.2 L736.4,277.5 L736.6,279.8 L737.8,282.6 L739.2,279.9 L740.6,286.1 L742.0,283.5 L742.8,286.1 L743.4,287.5 L744.8,284.5 L746.2,287.8 L747.6,283.9 L749.0,287.2 L750.4,282.0 L750.6,284.5 L751.8,288.3 L753.2,287.0 L754.6,293.0 L755.3,291.6 L756.0,288.6 L757.4,292.6 L758.8,287.8 L760.2,290.6 L761.6,286.4 L762.3,287.7 L763.0,289.5 L764.4,286.7 L765.8,291.4 L767.2,288.9 L768.6,292.5 L769.4,291.6 L770.0,289.9 L771.4,294.5 L772.8,291.9 L774.2,296.3 L775.6,295.5 L777.0,291.4 L778.4,294.5 L778.8,291.6 L779.8,290.9 L781.2,294.3 L782.6,291.9 L784.0,296.8 L785.0,294.7 L785.4,292.6 L786.8,297.3 L788.2,294.8 L789.6,299.1 L791.0,295.3 L792.4,300.9 L792.8,298.6 L793.8,296.6 L795.2,300.2 L796.6,295.2 L797.5,297.0 L798.0,299.0 L799.4,295.1 L800.8,299.6 L802.2,296.4 L803.6,300.4 L805.0,298.1 L806.4,302.5 L806.9,300.2 L807.8,299.0 L809.2,303.2 L810.6,299.4 L812.0,304.3 L813.4,300.7 L814.8,304.5 L816.2,301.7 L816.2,303.3 L817.6,306.4 L819.0,302.7 L820.0,305.2 L820.4,306.8 L821.8,302.3 L823.2,304.2 L823.9,302.8 L824.6,302.0 L826.0,305.6 L827.4,305.0 L827.8,306.2 L828.8,306.9 L830.2,303.7 L831.6,306.7 L832.5,304.7 L833.0,303.6 L834.4,308.1 L835.6,308.3 L835.8,306.8 L837.2,310.1 L838.6,307.3 L840.0,310.1 L841.4,307.7 L842.8,309.9 L843.4,309.0 L844.2,308.5 L845.6,312.4 L847.0,310.2 L847.3,311.9 L848.4,310.7 L848.9,307.5 L849.8,307.1 L851.2,310.9 L852.6,309.5 L854.0,314.3 L855.4,313.1 L856.7,315.3 L856.8,316.8 L858.2,313.7 L859.6,315.0 L861.0,311.6 L862.4,313.6 L863.8,311.0 L865.2,313.3 L865.3,311.4 L866.6,310.4 L868.0,313.1 L869.4,311.4 L870.8,313.9 L871.6,313.0 L872.2,311.3 L873.6,313.6 L875.0,310.7 L876.4,313.5 L877.8,310.2 L878.6,311.9 L879.2,313.8 L880.6,311.1 L882.0,313.6 L883.4,311.4 L884.8,314.0 L886.2,311.7 L887.6,314.4 L888.8,313.8 L889.0,312.8 L890.4,314.8 L891.8,311.0 L893.2,313.0 L893.4,311.4 L894.6,310.2 L896.0,312.9 L897.4,311.0 L898.8,313.9 L899.7,312.2 L900.2,310.4 L901.6,314.3 L903.0,311.7 L904.4,314.0 L905.2,313.0 L905.8,311.7 L907.2,315.4 L908.6,312.5 L910.0,315.9 L911.4,313.1 L912.8,316.2 L913.8,315.3 L914.2,314.0 L915.6,317.1 L917.0,315.3 L918.4,317.8 L919.8,316.2 L921.2,319.7 L922.6,317.0 L923.9,318.8 L924.0,320.2 L925.4,316.5 L926.8,319.2 L928.2,315.4 L929.4,316.1 L929.6,317.3 L931.0,315.1 L932.4,317.7 L933.8,314.9 L935.2,318.6 L935.6,316.9 L936.6,315.6 L938.0,317.9 L939.4,315.2 L940.8,317.9 L942.2,314.9 L943.6,317.3 L945.0,316.1 L946.4,315.0 L947.8,316.7 L949.2,314.5 L949.7,315.3 L950.6,316.1 L952.0,312.9 L953.4,313.8 L954.4,312.2 L954.8,310.4 L956.2,312.2 L957.6,308.5 L959.0,310.7 L960.4,306.7 L960.6,308.3 L961.8,308.3 L963.2,304.7 L964.6,306.5 L966.0,302.7 L966.9,302.8 L967.4,305.1 L968.8,303.3 L970.2,307.2 L971.6,306.7 L973.0,305.5 L974.4,309.8 L975.8,307.6 L976.2,309.0 L977.2,311.2 L978.6,310.6 L979.4,313.0 L980.0,315.4 L981.0,314.5" fill="none" stroke="#4ee65a" stroke-width="1" shape-rendering="crispEdges"/>
<path d="M42.0,604.5 L45.0,603.5 L48.5,602.5 L51.5,601.5 L55.0,600.5 L59.0,599.0 L62.0,597.5 L65.5,596.5 L68.5,595.5 L71.5,594.5 L74.0,593.5 L79.0,592.5 L89.0,591.5 L96.0,590.6 L104.6,590.5 L107.0,591.3 L111.0,592.5 L116.3,593.5 L122.0,594.5 L129.0,594.3 L133.0,593.5 L138.0,593.3 L141.0,592.5 L144.6,592.6 L147.0,593.5 L150.0,593.7 L153.0,594.5 L156.0,594.7 L158.0,595.5 L161.0,596.5 L163.5,597.5 L166.0,598.5 L170.0,599.0 L172.0,600.3 L180.0,589.7 L186.2,581.9 L189.4,579.5 L196.9,575.3 L205.0,592.0 L216.0,603.0 L223.8,605.3 L233.1,608.8 L240.2,604.5 L248.8,592.0 L255.0,601.4 L261.2,610.3 L267.5,610.3 L272.2,595.2 L277.7,591.2 L283.1,609.2 L292.5,614.7 L298.8,623.3 L307.3,615.5 L311.2,618.1 L318.3,618.1 L326.1,610.0 L330.8,601.4 L337.0,620.2 L340.0,616.4 L345.5,615.3 L350.2,621.6 L355.6,632.5 L358.0,623.9 L361.9,621.6 L366.6,619.7 L373.6,627.0 L375.9,609.0 L378.3,585.3 L381.4,596.6 L383.8,618.4 L385.3,609.0 L386.9,616.9 L390.0,630.2 L393.9,625.5 L397.8,631.0 L400.2,628.6 L403.3,636.4 L407.2,623.9 L409.5,634.8 L412.7,610.6 L415.0,621.6 L417.3,631.7 L422.8,633.3 L425.2,627.0 L428.3,634.0 L432.2,631.7 L436.1,638.0 L439.2,608.3 L442.3,638.8 L446.2,634.0 L451.7,640.3 L454.8,628.6 L458.0,641.1 L461.1,632.5 L464.2,635.6 L467.3,630.2 L471.2,641.1 L476.7,642.7 L479.8,619.2 L482.2,641.9 L485.3,638.8 L490.0,641.1 L491.4,645.5 L492.8,642.6 L493.9,646.6 L494.2,646.9 L495.6,640.2 L496.2,639.5 L497.0,644.0 L498.4,643.9 L498.6,646.6 L499.8,646.2 L500.0,643.8 L501.2,643.4 L502.3,646.1 L502.6,647.8 L504.0,642.4 L505.4,644.9 L506.8,640.3 L507.0,641.4 L508.2,637.6 L509.6,627.7 L510.2,626.6 L511.0,639.5 L511.7,646.9 L512.4,643.6 L513.8,646.8 L515.2,640.8 L515.6,642.2 L516.6,648.6 L518.0,652.0 L518.8,657.0 L519.4,654.0 L520.8,642.2 L521.9,636.7 L522.2,640.5 L523.6,642.7 L525.0,651.6 L526.4,651.5 L527.8,643.7 L529.2,647.1 L529.7,643.8 L530.6,642.3 L532.0,648.6 L533.4,646.9 L534.8,652.3 L535.9,651.6 L536.2,649.5 L537.6,652.2 L539.0,644.8 L540.4,649.5 L541.8,643.3 L543.2,646.8 L544.5,642.2 L544.6,640.1 L546.0,658.3 L546.1,656.2 L547.4,651.1 L548.8,655.3 L550.2,647.3 L551.6,650.5 L553.0,642.9 L553.1,646.1 L554.4,651.8 L555.8,649.1 L557.0,653.1 L557.2,655.9 L558.6,649.3 L560.0,653.8 L561.4,648.1 L562.5,650.0 L562.8,652.3 L564.2,646.1 L565.6,651.3 L567.0,645.3 L568.4,650.0 L568.8,647.7 L569.8,646.3 L571.2,655.0 L572.6,651.8 L573.4,655.5 L574.0,656.5 L575.4,646.9 L576.8,649.3 L578.1,643.0 L578.2,640.8 L579.6,648.2 L581.0,647.1 L582.4,655.1 L582.8,653.1 L583.8,651.6 L585.2,657.1 L586.6,652.4 L587.5,654.7 L588.0,657.1 L589.4,649.3 L590.8,652.3 L592.2,643.8 L592.5,646.1 L593.6,654.1 L595.0,656.2 L595.3,660.2 L596.4,657.7 L597.8,645.6 L598.4,645.3 L599.2,650.7 L600.6,652.5 L601.6,658.6 L602.0,660.8 L603.4,654.1 L604.8,659.0 L606.2,653.7 L607.6,657.4 L609.0,650.5 L609.4,653.1 L610.4,653.0 L611.0,647.7 L611.8,647.0 L613.2,653.9 L614.6,651.5 L616.0,658.0 L617.4,655.3 L618.8,659.4 L618.8,661.3 L620.2,653.9 L621.6,656.6 L623.0,650.1 L624.4,653.5 L625.8,646.2 L626.6,646.9 L627.2,651.2 L628.6,651.8 L629.7,659.4 L630.0,661.7 L631.4,656.2 L632.8,660.4 L634.2,656.3 L635.6,660.0 L637.0,655.1 L637.5,657.8 L638.4,658.6 L639.8,652.2 L640.6,654.7 L641.2,656.5 L642.6,652.6 L644.0,657.6 L645.4,654.6 L646.8,660.2 L648.2,655.9 L648.4,657.8 L649.6,660.2 L651.0,656.1 L652.4,661.7 L653.8,658.4 L655.2,664.0 L656.6,659.4 L657.8,661.7 L658.0,662.9 L659.4,656.3 L660.0,657.3 L660.8,659.3 L662.2,655.1 L663.6,658.6 L665.0,655.6 L666.2,657.3 L666.4,658.7 L667.8,657.3 L669.2,663.0 L670.6,660.1 L671.0,662.8 L672.0,664.2 L673.4,658.1 L674.8,661.3 L675.6,658.1 L676.2,656.4 L677.6,661.7 L679.0,659.6 L680.4,664.4 L681.8,661.9 L681.9,663.6 L683.2,662.8 L684.6,657.4 L685.8,657.3 L686.0,659.7 L687.4,655.7 L688.8,658.8 L689.7,656.6 L690.2,656.0 L691.6,662.8 L692.8,663.6 L693.0,662.3 L694.4,666.5 L695.8,662.7 L697.2,666.5 L698.6,663.0 L700.0,666.3 L700.6,665.2 L701.4,662.9 L702.8,665.7 L704.2,662.5 L705.6,664.4 L707.0,661.2 L708.4,662.0 L709.8,665.0 L711.2,663.4 L712.6,669.1 L714.0,666.4 L714.7,669.8 L715.4,671.8 L716.8,665.6 L718.2,668.7 L719.4,666.2 L719.6,664.5 L721.0,668.2 L722.4,665.1 L723.8,669.6 L725.2,665.6 L726.6,670.6 L728.0,667.2 L728.8,669.0 L729.4,671.0 L730.8,667.7 L732.2,671.2 L733.6,669.3 L735.0,672.7 L736.4,670.0 L736.6,671.4 L737.8,673.0 L739.2,668.6 L740.6,670.7 L742.0,667.3 L742.8,668.3 L743.4,670.5 L744.8,669.1 L746.2,674.2 L747.5,673.8 L747.6,671.9 L749.0,675.8 L750.4,672.5 L751.8,676.5 L753.2,673.0 L754.6,678.4 L755.3,676.1 L756.0,674.5 L757.4,679.6 L758.8,677.1 L760.0,680.0 L760.2,681.8 L761.6,677.1 L763.0,678.6 L764.4,673.4 L765.8,675.3 L766.2,673.4 L767.2,673.3 L768.6,678.8 L770.0,676.6 L771.4,682.1 L772.5,681.6 L772.8,679.0 L774.2,682.8 L775.6,678.4 L777.0,681.9 L777.2,679.2 L778.4,678.5 L779.8,682.6 L781.2,680.4 L781.9,683.1 L782.6,683.7 L784.0,679.4 L785.0,680.0 L785.4,682.7 L786.8,679.1 L788.2,683.4 L789.6,681.4 L791.0,686.0 L792.4,683.4 L792.8,685.5 L793.8,687.0 L795.2,683.5 L796.6,686.8 L798.0,683.9 L799.4,687.2 L800.8,683.0 L802.2,686.8 L803.6,683.3 L803.8,685.5 L805.0,687.6 L806.4,684.8 L807.8,689.2 L809.2,686.4 L810.0,688.6 L810.6,691.0 L812.0,687.4 L813.4,690.8 L814.8,688.5 L816.2,691.5 L816.2,690.2 L817.6,688.8 L819.0,694.2 L820.0,692.8 L820.4,691.0 L821.8,694.5 L823.2,692.1 L824.6,694.6 L826.0,691.4 L826.2,693.1 L827.4,695.0 L828.8,692.3 L830.2,695.2 L831.6,693.0 L833.0,696.3 L834.4,693.8 L835.6,695.2 L835.8,696.5 L837.2,692.8 L838.0,693.6 L838.6,696.1 L840.0,694.0 L841.4,699.0 L842.8,696.9 L844.2,701.3 L845.0,701.0 L845.6,699.1 L847.0,699.8 L848.4,695.5 L848.9,696.0 L849.8,697.9 L851.2,696.0 L852.6,700.4 L854.0,698.1 L854.4,699.8 L855.4,700.9 L856.8,697.4 L858.2,698.8 L858.3,697.5 L859.6,696.5 L861.0,700.3 L862.4,699.0 L863.8,702.1 L865.2,701.2 L865.3,702.2 L866.6,703.5 L868.0,699.3 L869.4,702.2 L870.8,699.1 L871.6,699.8 L872.2,700.9 L873.6,698.5 L875.0,701.0 L876.4,697.7 L877.8,700.4 L878.6,699.0 L879.2,697.6 L880.6,700.0 L882.0,697.6 L883.4,700.8 L884.8,697.4 L885.6,699.0 L886.2,700.1 L887.6,698.2 L889.0,701.7 L890.4,699.4 L891.8,702.8 L893.2,700.1 L894.6,703.5 L896.0,701.0 L896.6,702.5 L897.4,704.2 L898.8,700.4 L900.2,703.3 L901.6,700.5 L903.0,702.6 L904.4,701.0 L905.8,700.5 L907.2,703.3 L908.6,700.5 L910.0,703.7 L911.4,701.7 L912.8,704.8 L913.8,703.8 L914.2,702.6 L915.6,706.0 L917.0,703.0 L918.4,706.9 L919.8,704.4 L921.2,708.1 L921.6,706.4 L922.6,705.1 L924.0,707.7 L925.4,704.3 L926.8,707.3 L928.2,703.7 L929.4,705.3 L929.6,706.4 L931.0,704.1 L932.4,707.1 L933.8,704.5 L935.2,708.2 L936.6,705.0 L938.0,707.6 L938.8,706.9 L939.4,705.3 L940.8,707.7 L942.2,703.8 L943.6,706.6 L945.0,704.5 L946.4,702.8 L947.8,705.4 L949.2,702.7 L950.6,706.1 L952.0,703.0 L953.4,706.3 L954.8,702.7 L956.2,705.5 L957.5,704.5 L957.6,702.8 L959.0,706.2 L960.4,703.4 L961.8,706.1 L963.2,703.0 L964.5,704.5 L964.6,705.6 L966.0,703.4 L967.4,706.7 L968.4,706.1 L968.8,705.1 L970.2,709.6 L971.6,708.8 L972.3,710.8 L973.0,712.4 L974.4,709.9 L975.8,712.6 L976.2,711.6 L977.2,712.1 L977.8,715.5 L978.6,716.6 L980.0,715.0 L981.0,716.0" fill="none" stroke="#000010" stroke-opacity="0.45" stroke-width="1" transform="translate(1,1)" shape-rendering="crispEdges"/>
<path d="M42.0,604.5 L45.0,603.5 L48.5,602.5 L51.5,601.5 L55.0,600.5 L59.0,599.0 L62.0,597.5 L65.5,596.5 L68.5,595.5 L71.5,594.5 L74.0,593.5 L79.0,592.5 L89.0,591.5 L96.0,590.6 L104.6,590.5 L107.0,591.3 L111.0,592.5 L116.3,593.5 L122.0,594.5 L129.0,594.3 L133.0,593.5 L138.0,593.3 L141.0,592.5 L144.6,592.6 L147.0,593.5 L150.0,593.7 L153.0,594.5 L156.0,594.7 L158.0,595.5 L161.0,596.5 L163.5,597.5 L166.0,598.5 L170.0,599.0 L172.0,600.3 L180.0,589.7 L186.2,581.9 L189.4,579.5 L196.9,575.3 L205.0,592.0 L216.0,603.0 L223.8,605.3 L233.1,608.8 L240.2,604.5 L248.8,592.0 L255.0,601.4 L261.2,610.3 L267.5,610.3 L272.2,595.2 L277.7,591.2 L283.1,609.2 L292.5,614.7 L298.8,623.3 L307.3,615.5 L311.2,618.1 L318.3,618.1 L326.1,610.0 L330.8,601.4 L337.0,620.2 L340.0,616.4 L345.5,615.3 L350.2,621.6 L355.6,632.5 L358.0,623.9 L361.9,621.6 L366.6,619.7 L373.6,627.0 L375.9,609.0 L378.3,585.3 L381.4,596.6 L383.8,618.4 L385.3,609.0 L386.9,616.9 L390.0,630.2 L393.9,625.5 L397.8,631.0 L400.2,628.6 L403.3,636.4 L407.2,623.9 L409.5,634.8 L412.7,610.6 L415.0,621.6 L417.3,631.7 L422.8,633.3 L425.2,627.0 L428.3,634.0 L432.2,631.7 L436.1,638.0 L439.2,608.3 L442.3,638.8 L446.2,634.0 L451.7,640.3 L454.8,628.6 L458.0,641.1 L461.1,632.5 L464.2,635.6 L467.3,630.2 L471.2,641.1 L476.7,642.7 L479.8,619.2 L482.2,641.9 L485.3,638.8 L490.0,641.1 L491.4,645.5 L492.8,642.6 L493.9,646.6 L494.2,646.9 L495.6,640.2 L496.2,639.5 L497.0,644.0 L498.4,643.9 L498.6,646.6 L499.8,646.2 L500.0,643.8 L501.2,643.4 L502.3,646.1 L502.6,647.8 L504.0,642.4 L505.4,644.9 L506.8,640.3 L507.0,641.4 L508.2,637.6 L509.6,627.7 L510.2,626.6 L511.0,639.5 L511.7,646.9 L512.4,643.6 L513.8,646.8 L515.2,640.8 L515.6,642.2 L516.6,648.6 L518.0,652.0 L518.8,657.0 L519.4,654.0 L520.8,642.2 L521.9,636.7 L522.2,640.5 L523.6,642.7 L525.0,651.6 L526.4,651.5 L527.8,643.7 L529.2,647.1 L529.7,643.8 L530.6,642.3 L532.0,648.6 L533.4,646.9 L534.8,652.3 L535.9,651.6 L536.2,649.5 L537.6,652.2 L539.0,644.8 L540.4,649.5 L541.8,643.3 L543.2,646.8 L544.5,642.2 L544.6,640.1 L546.0,658.3 L546.1,656.2 L547.4,651.1 L548.8,655.3 L550.2,647.3 L551.6,650.5 L553.0,642.9 L553.1,646.1 L554.4,651.8 L555.8,649.1 L557.0,653.1 L557.2,655.9 L558.6,649.3 L560.0,653.8 L561.4,648.1 L562.5,650.0 L562.8,652.3 L564.2,646.1 L565.6,651.3 L567.0,645.3 L568.4,650.0 L568.8,647.7 L569.8,646.3 L571.2,655.0 L572.6,651.8 L573.4,655.5 L574.0,656.5 L575.4,646.9 L576.8,649.3 L578.1,643.0 L578.2,640.8 L579.6,648.2 L581.0,647.1 L582.4,655.1 L582.8,653.1 L583.8,651.6 L585.2,657.1 L586.6,652.4 L587.5,654.7 L588.0,657.1 L589.4,649.3 L590.8,652.3 L592.2,643.8 L592.5,646.1 L593.6,654.1 L595.0,656.2 L595.3,660.2 L596.4,657.7 L597.8,645.6 L598.4,645.3 L599.2,650.7 L600.6,652.5 L601.6,658.6 L602.0,660.8 L603.4,654.1 L604.8,659.0 L606.2,653.7 L607.6,657.4 L609.0,650.5 L609.4,653.1 L610.4,653.0 L611.0,647.7 L611.8,647.0 L613.2,653.9 L614.6,651.5 L616.0,658.0 L617.4,655.3 L618.8,659.4 L618.8,661.3 L620.2,653.9 L621.6,656.6 L623.0,650.1 L624.4,653.5 L625.8,646.2 L626.6,646.9 L627.2,651.2 L628.6,651.8 L629.7,659.4 L630.0,661.7 L631.4,656.2 L632.8,660.4 L634.2,656.3 L635.6,660.0 L637.0,655.1 L637.5,657.8 L638.4,658.6 L639.8,652.2 L640.6,654.7 L641.2,656.5 L642.6,652.6 L644.0,657.6 L645.4,654.6 L646.8,660.2 L648.2,655.9 L648.4,657.8 L649.6,660.2 L651.0,656.1 L652.4,661.7 L653.8,658.4 L655.2,664.0 L656.6,659.4 L657.8,661.7 L658.0,662.9 L659.4,656.3 L660.0,657.3 L660.8,659.3 L662.2,655.1 L663.6,658.6 L665.0,655.6 L666.2,657.3 L666.4,658.7 L667.8,657.3 L669.2,663.0 L670.6,660.1 L671.0,662.8 L672.0,664.2 L673.4,658.1 L674.8,661.3 L675.6,658.1 L676.2,656.4 L677.6,661.7 L679.0,659.6 L680.4,664.4 L681.8,661.9 L681.9,663.6 L683.2,662.8 L684.6,657.4 L685.8,657.3 L686.0,659.7 L687.4,655.7 L688.8,658.8 L689.7,656.6 L690.2,656.0 L691.6,662.8 L692.8,663.6 L693.0,662.3 L694.4,666.5 L695.8,662.7 L697.2,666.5 L698.6,663.0 L700.0,666.3 L700.6,665.2 L701.4,662.9 L702.8,665.7 L704.2,662.5 L705.6,664.4 L707.0,661.2 L708.4,662.0 L709.8,665.0 L711.2,663.4 L712.6,669.1 L714.0,666.4 L714.7,669.8 L715.4,671.8 L716.8,665.6 L718.2,668.7 L719.4,666.2 L719.6,664.5 L721.0,668.2 L722.4,665.1 L723.8,669.6 L725.2,665.6 L726.6,670.6 L728.0,667.2 L728.8,669.0 L729.4,671.0 L730.8,667.7 L732.2,671.2 L733.6,669.3 L735.0,672.7 L736.4,670.0 L736.6,671.4 L737.8,673.0 L739.2,668.6 L740.6,670.7 L742.0,667.3 L742.8,668.3 L743.4,670.5 L744.8,669.1 L746.2,674.2 L747.5,673.8 L747.6,671.9 L749.0,675.8 L750.4,672.5 L751.8,676.5 L753.2,673.0 L754.6,678.4 L755.3,676.1 L756.0,674.5 L757.4,679.6 L758.8,677.1 L760.0,680.0 L760.2,681.8 L761.6,677.1 L763.0,678.6 L764.4,673.4 L765.8,675.3 L766.2,673.4 L767.2,673.3 L768.6,678.8 L770.0,676.6 L771.4,682.1 L772.5,681.6 L772.8,679.0 L774.2,682.8 L775.6,678.4 L777.0,681.9 L777.2,679.2 L778.4,678.5 L779.8,682.6 L781.2,680.4 L781.9,683.1 L782.6,683.7 L784.0,679.4 L785.0,680.0 L785.4,682.7 L786.8,679.1 L788.2,683.4 L789.6,681.4 L791.0,686.0 L792.4,683.4 L792.8,685.5 L793.8,687.0 L795.2,683.5 L796.6,686.8 L798.0,683.9 L799.4,687.2 L800.8,683.0 L802.2,686.8 L803.6,683.3 L803.8,685.5 L805.0,687.6 L806.4,684.8 L807.8,689.2 L809.2,686.4 L810.0,688.6 L810.6,691.0 L812.0,687.4 L813.4,690.8 L814.8,688.5 L816.2,691.5 L816.2,690.2 L817.6,688.8 L819.0,694.2 L820.0,692.8 L820.4,691.0 L821.8,694.5 L823.2,692.1 L824.6,694.6 L826.0,691.4 L826.2,693.1 L827.4,695.0 L828.8,692.3 L830.2,695.2 L831.6,693.0 L833.0,696.3 L834.4,693.8 L835.6,695.2 L835.8,696.5 L837.2,692.8 L838.0,693.6 L838.6,696.1 L840.0,694.0 L841.4,699.0 L842.8,696.9 L844.2,701.3 L845.0,701.0 L845.6,699.1 L847.0,699.8 L848.4,695.5 L848.9,696.0 L849.8,697.9 L851.2,696.0 L852.6,700.4 L854.0,698.1 L854.4,699.8 L855.4,700.9 L856.8,697.4 L858.2,698.8 L858.3,697.5 L859.6,696.5 L861.0,700.3 L862.4,699.0 L863.8,702.1 L865.2,701.2 L865.3,702.2 L866.6,703.5 L868.0,699.3 L869.4,702.2 L870.8,699.1 L871.6,699.8 L872.2,700.9 L873.6,698.5 L875.0,701.0 L876.4,697.7 L877.8,700.4 L878.6,699.0 L879.2,697.6 L880.6,700.0 L882.0,697.6 L883.4,700.8 L884.8,697.4 L885.6,699.0 L886.2,700.1 L887.6,698.2 L889.0,701.7 L890.4,699.4 L891.8,702.8 L893.2,700.1 L894.6,703.5 L896.0,701.0 L896.6,702.5 L897.4,704.2 L898.8,700.4 L900.2,703.3 L901.6,700.5 L903.0,702.6 L904.4,701.0 L905.8,700.5 L907.2,703.3 L908.6,700.5 L910.0,703.7 L911.4,701.7 L912.8,704.8 L913.8,703.8 L914.2,702.6 L915.6,706.0 L917.0,703.0 L918.4,706.9 L919.8,704.4 L921.2,708.1 L921.6,706.4 L922.6,705.1 L924.0,707.7 L925.4,704.3 L926.8,707.3 L928.2,703.7 L929.4,705.3 L929.6,706.4 L931.0,704.1 L932.4,707.1 L933.8,704.5 L935.2,708.2 L936.6,705.0 L938.0,707.6 L938.8,706.9 L939.4,705.3 L940.8,707.7 L942.2,703.8 L943.6,706.6 L945.0,704.5 L946.4,702.8 L947.8,705.4 L949.2,702.7 L950.6,706.1 L952.0,703.0 L953.4,706.3 L954.8,702.7 L956.2,705.5 L957.5,704.5 L957.6,702.8 L959.0,706.2 L960.4,703.4 L961.8,706.1 L963.2,703.0 L964.5,704.5 L964.6,705.6 L966.0,703.4 L967.4,706.7 L968.4,706.1 L968.8,705.1 L970.2,709.6 L971.6,708.8 L972.3,710.8 L973.0,712.4 L974.4,709.9 L975.8,712.6 L976.2,711.6 L977.2,712.1 L977.8,715.5 L978.6,716.6 L980.0,715.0 L981.0,716.0" fill="none" stroke="#4ee65a" stroke-width="1" shape-rendering="crispEdges"/>
<g fill="none" stroke="#3a3400" stroke-width="1.6" transform="translate(0.8,0.8)">
<path d="M974.5,4.5 L974.5,13 L982.5,8.75 Z"/>
<rect x="988.5" y="8.5" width="7" height="2"/>
<rect x="1000.5" y="4.5" width="7" height="6"/>
<path d="M1012.5,4.5 L1019.5,11.5 M1019.5,4.5 L1012.5,11.5"/>
</g>
<g fill="none" stroke="#f0f070" stroke-width="1">
<path d="M974.5,4.5 L974.5,13 L982.5,8.75 Z"/>
<rect x="988.5" y="8.5" width="7" height="2"/>
<rect x="1000.5" y="4.5" width="7" height="6"/>
<path d="M1012.5,4.5 L1019.5,11.5 M1019.5,4.5 L1012.5,11.5"/>
</g>
<text x="58.0" y="370" text-anchor="middle" class="lb">10</text>
<text x="141.0" y="370" text-anchor="middle" class="lb">20</text>
<text x="189.0" y="370" text-anchor="middle" class="lb">30</text>
<text x="223.0" y="370" text-anchor="middle" class="lb">40</text>
<text x="250.0" y="370" text-anchor="middle" class="lb">50</text>
<text x="271.0" y="370" text-anchor="middle" class="lb">60</text>
<text x="305.0" y="370" text-anchor="middle" class="lb">80</text>
<text x="332.0" y="370" text-anchor="middle" class="lb">100</text>
<text x="414.0" y="370" text-anchor="middle" class="lb">200</text>
<text x="462.0" y="370" text-anchor="middle" class="lb">300</text>
<text x="497.0" y="370" text-anchor="middle" class="lb">400</text>
<text x="545.0" y="370" text-anchor="middle" class="lb">600</text>
<text x="579.0" y="370" text-anchor="middle" class="lb">800</text>
<text x="605.0" y="370" text-anchor="middle" class="lb">1k</text>
<text x="688.0" y="370" text-anchor="middle" class="lb">2k</text>
<text x="736.0" y="370" text-anchor="middle" class="lb">3k</text>
<text x="770.0" y="370" text-anchor="middle" class="lb">4k</text>
<text x="797.0" y="370" text-anchor="middle" class="lb">5k</text>
<text x="818.0" y="370" text-anchor="middle" class="lb">6k</text>
<text x="852.0" y="370" text-anchor="middle" class="lb">8k</text>
<text x="879.0" y="370" text-anchor="middle" class="lb">10k</text>
<text x="961.0" y="370" text-anchor="middle" class="lb">20k</text>
<text x="34.4" y="26.5" text-anchor="end" class="lb">0</text>
<text x="34.4" y="74.5" text-anchor="end" class="lb">-20</text>
<text x="34.4" y="121.5" text-anchor="end" class="lb">-40</text>
<text x="34.4" y="169.5" text-anchor="end" class="lb">-60</text>
<text x="34.4" y="216.5" text-anchor="end" class="lb">-80</text>
<text x="34.4" y="264.5" text-anchor="end" class="lb">-100</text>
<text x="34.4" y="311.5" text-anchor="end" class="lb">-120</text>
<text x="34.4" y="359.5" text-anchor="end" class="lb">-140</text>
<text x="42" y="18" class="lb">dB</text>
<text x="984" y="353" class="lb">2,930</text>
<text x="998" y="370" class="lb">Hz</text>
<text x="513" y="14.8" text-anchor="middle" class="tt">Spectrum Left</text>
<text x="58.0" y="759" text-anchor="middle" class="lb">10</text>
<text x="141.0" y="759" text-anchor="middle" class="lb">20</text>
<text x="189.0" y="759" text-anchor="middle" class="lb">30</text>
<text x="223.0" y="759" text-anchor="middle" class="lb">40</text>
<text x="250.0" y="759" text-anchor="middle" class="lb">50</text>
<text x="271.0" y="759" text-anchor="middle" class="lb">60</text>
<text x="305.0" y="759" text-anchor="middle" class="lb">80</text>
<text x="332.0" y="759" text-anchor="middle" class="lb">100</text>
<text x="414.0" y="759" text-anchor="middle" class="lb">200</text>
<text x="462.0" y="759" text-anchor="middle" class="lb">300</text>
<text x="497.0" y="759" text-anchor="middle" class="lb">400</text>
<text x="545.0" y="759" text-anchor="middle" class="lb">600</text>
<text x="579.0" y="759" text-anchor="middle" class="lb">800</text>
<text x="605.0" y="759" text-anchor="middle" class="lb">1k</text>
<text x="688.0" y="759" text-anchor="middle" class="lb">2k</text>
<text x="736.0" y="759" text-anchor="middle" class="lb">3k</text>
<text x="770.0" y="759" text-anchor="middle" class="lb">4k</text>
<text x="797.0" y="759" text-anchor="middle" class="lb">5k</text>
<text x="818.0" y="759" text-anchor="middle" class="lb">6k</text>
<text x="852.0" y="759" text-anchor="middle" class="lb">8k</text>
<text x="879.0" y="759" text-anchor="middle" class="lb">10k</text>
<text x="961.0" y="759" text-anchor="middle" class="lb">20k</text>
<text x="34.4" y="408.5" text-anchor="end" class="lb">0</text>
<text x="34.4" y="457.5" text-anchor="end" class="lb">-20</text>
<text x="34.4" y="505.5" text-anchor="end" class="lb">-40</text>
<text x="34.4" y="554.5" text-anchor="end" class="lb">-60</text>
<text x="34.4" y="602.5" text-anchor="end" class="lb">-80</text>
<text x="34.4" y="651.5" text-anchor="end" class="lb">-100</text>
<text x="34.4" y="699.5" text-anchor="end" class="lb">-120</text>
<text x="34.4" y="748.5" text-anchor="end" class="lb">-140</text>
<text x="42" y="400" class="lb">dB</text>
<text x="984" y="742" class="lb">2,930</text>
<text x="998" y="759" class="lb">Hz</text>
<text x="514" y="396.8" text-anchor="middle" class="tt">Spectrum Right</text>
<text x="198" y="92" class="lb" style="fill:#000;stroke:#000" textLength="45" lengthAdjust="spacingAndGlyphs">X=50,194</text>
<text x="253" y="92" class="lb" style="fill:#000;stroke:#000" textLength="50.5" lengthAdjust="spacingAndGlyphs">Y=-13,874</text>
</svg>
</body></html>
